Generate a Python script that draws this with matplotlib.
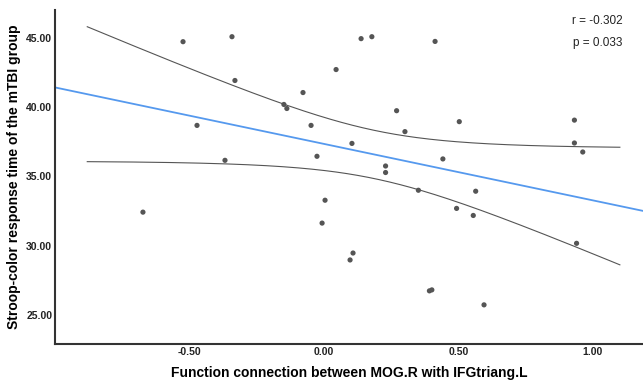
import numpy as np
import matplotlib
matplotlib.use("Agg")
import matplotlib.pyplot as plt

# ------------ DATA -------------
# functional connection MOG.R - IFGtriang.L (x) vs Stroop-color RT (y)
conn = [-0.673, -0.524, -0.472, -0.368, -0.342, -0.331, -0.149, -0.138,
        -0.078, -0.048, -0.026, 0.004, -0.007, 0.045, 0.104, 0.138,
        0.178, 0.097, 0.108, 0.229, 0.229, 0.270, 0.301, 0.351,
        0.413, 0.442, 0.503, 0.564, 0.493, 0.555, 0.392, 0.401,
        0.595, 0.931, 0.931, 0.962, 0.939]
stroop_rt = [32.41, 44.71, 38.67, 36.15, 45.07, 41.91, 40.18, 39.89,
             41.04, 38.67, 36.44, 33.27, 31.62, 42.70, 37.37, 44.93,
             45.07, 28.96, 29.46, 35.74, 35.27, 39.73, 38.22, 33.99,
             44.73, 36.25, 38.94, 33.92, 32.68, 32.17, 26.73, 26.80,
             25.72, 39.05, 37.40, 36.75, 30.16]
ci_range = (-0.88, 1.10)   # x span of the 95% CI curves
x_ticks = [-0.5, 0.0, 0.5, 1.0]
y_ticks = [25, 30, 35, 40, 45]
stats_text = ["r = -0.302", "p = 0.033"]
# -------------------------------

plt.rcParams["font.family"] = ["Liberation Sans", "DejaVu Sans"]

x = np.array(conn)
y = np.array(stroop_rt)
n = len(x)

# linear fit + 95% CI of the mean
slope, icpt = np.polyfit(x, y, 1)
resid = y - (icpt + slope * x)
s = np.sqrt(np.sum(resid ** 2) / (n - 2))
sxx = np.sum((x - x.mean()) ** 2)
t_crit = 2.03

fig = plt.figure(figsize=(6.43, 3.83), dpi=100)
ax = fig.add_axes([0.0855, 0.102, 0.9145, 0.872])

xlim = (-1.0, 1.186)
ylim = (22.9, 47.0)

xs = np.linspace(xlim[0], xlim[1], 200)
ax.plot(xs, icpt + slope * xs, color="#5599ee", lw=1.3, zorder=2)

xc = np.linspace(ci_range[0], ci_range[1], 200)
yc = icpt + slope * xc
half = t_crit * s * np.sqrt(1 / n + (xc - x.mean()) ** 2 / sxx)
ax.plot(xc, yc + half, color="#555555", lw=0.8, zorder=2)
ax.plot(xc, yc - half, color="#555555", lw=0.8, zorder=2)

ax.scatter(x, y, s=14, color="#555555", edgecolors="none", zorder=3)

ax.set_xlim(*xlim)
ax.set_ylim(*ylim)
ax.set_xticks(x_ticks)
ax.set_xticklabels([f"{v:.2f}" for v in x_ticks])
ax.set_yticks(y_ticks)
ax.set_yticklabels([f"{v:.2f}" for v in y_ticks])
ax.tick_params(length=0, labelsize=7.5, colors="#222222", pad=2)
for lab in ax.get_xticklabels() + ax.get_yticklabels():
    lab.set_fontweight("bold")

for side in ["top", "right"]:
    ax.spines[side].set_visible(False)
for side in ["left", "bottom"]:
    ax.spines[side].set_color("#333333")
    ax.spines[side].set_linewidth(1.5)

ax.set_xlabel("Function connection between MOG.R with IFGtriang.L",
              fontsize=10, fontweight="bold", labelpad=7)
ax.set_ylabel("Stroop-color response time of the mTBI group",
              fontsize=10, fontweight="bold", labelpad=4)

ax.text(0.965, 0.967, stats_text[0], transform=ax.transAxes,
        ha="right", va="center", fontsize=8.5, color="#222222")
ax.text(0.965, 0.901, stats_text[1], transform=ax.transAxes,
        ha="right", va="center", fontsize=8.5, color="#222222")

fig.savefig("out.png", dpi=100)
